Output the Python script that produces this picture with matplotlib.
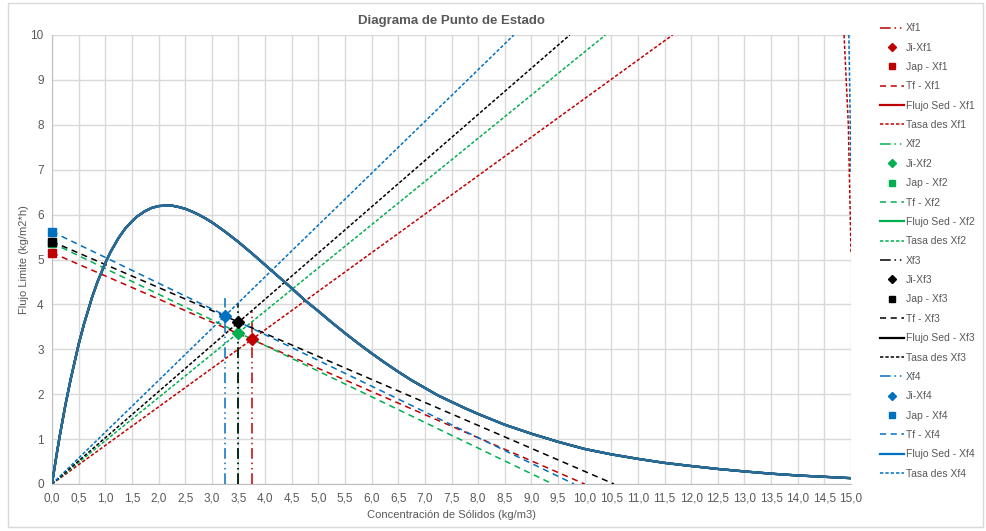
import matplotlib
matplotlib.use("Agg")
import matplotlib.pyplot as plt
from matplotlib.patches import Rectangle
from matplotlib.ticker import MultipleLocator, FuncFormatter

plt.rcParams['font.family'] = ['Liberation Sans Narrow', 'Liberation Sans', 'DejaVu Sans']

# --- data -------------------------------------------------------------
series = ["Xf1", "Xf2", "Xf3", "Xf4"]
colors = ["#C00000", "#00B050", "#000000", "#0070C0"]

# feed concentration of each state point (kg/m3)
xf = [3.75, 3.5, 3.5, 3.25]
# top of the vertical feed-concentration marker
xf_top = [3.9, 3.95, 4.03, 4.14]
# applied solids flux at the state point
ji = [3.22, 3.37, 3.6, 3.75]
# underflow flux intercept at C = 0
jap = [5.15, 5.37, 5.4, 5.62]
# underflow operating line: x-intercept (underflow concentration)
tf_end = [10.0, 9.4, 10.55, 9.8]
# overflow operating line: concentration where it reaches flux 10
tasa_end = [11.65, 10.39, 9.72, 8.67]

# batch settling flux curve (same for every series)
conc = [0, 0.05, 0.1, 0.15, 0.25, 0.35, 0.5, 0.6, 0.75, 0.85, 1.0, 1.1,
        1.25, 1.375, 1.5, 1.6, 1.75, 1.875, 2.0, 2.125, 2.25, 2.375, 2.5,
        2.625, 2.75, 2.875, 3.0, 3.25, 3.5, 3.75, 4.0, 4.25, 4.5, 4.75,
        5.0, 5.25, 5.5, 5.75, 6.0, 6.25, 6.5, 6.75, 7.0, 7.25, 7.5, 7.75,
        8.0, 8.5, 9.0, 9.5, 10.0, 10.5, 11.0, 11.5, 12.0, 12.5, 13.0, 13.5,
        14.0, 14.5, 15.0]
flux = [0, 0.38, 0.75, 1.1, 1.75, 2.33, 3.11, 3.56, 4.15, 4.49, 4.92, 5.17,
        5.48, 5.69, 5.85, 5.96, 6.08, 6.15, 6.19, 6.2, 6.2, 6.17, 6.13,
        6.07, 6.0, 5.92, 5.83, 5.62, 5.39, 5.14, 4.88, 4.62, 4.36, 4.09,
        3.85, 3.6, 3.36, 3.13, 2.91, 2.7, 2.5, 2.31, 2.14, 1.97, 1.83, 1.69,
        1.56, 1.32, 1.12, 0.94, 0.78, 0.66, 0.56, 0.47, 0.4, 0.335, 0.28,
        0.23, 0.19, 0.16, 0.13]

# short branches entering at the right edge
edge_x = {"Xf1": [14.87, 14.95, 15.0], "Xf4": [14.96, 15.0]}
edge_y = {"Xf1": [10.0, 8.0, 5.17], "Xf4": [10.0, 6.95]}

# --- figure -----------------------------------------------------------
W, H = 986, 531
fig = plt.figure(figsize=(W / 100, H / 100), dpi=100)
ax = fig.add_axes([52 / W, 1 - 484 / H, (851 - 52) / W, (484 - 35) / H])

grey_txt = "#595959"
grid_c = "#D9D9D9"

dd = (0, (7, 2.5, 1, 2.5, 1, 2.5))   # dash-dot-dot
tf_ls = (0, (4, 3))
tasa_ls = (0, (2.2, 1.3))

handles = []
for i, s in enumerate(series):
    c = colors[i]
    h_xf, = ax.plot([xf[i], xf[i]], [0, xf_top[i]], color=c, lw=1.1,
                    linestyle=dd, label=s, zorder=3)
    h_tf, = ax.plot([0, tf_end[i]], [jap[i], 0], color=c, lw=1.1,
                    linestyle=tf_ls, label=f"Tf - {s}", zorder=3)
    h_ta, = ax.plot([0, tasa_end[i]], [0, 10], color=c, lw=1.1,
                    linestyle=tasa_ls, label=f"Tasa des {s}", zorder=3)
    h_fs, = ax.plot(conc, flux, color=c, lw=1.6, label=f"Flujo Sed - {s}",
                    zorder=4)
    h_ji, = ax.plot([xf[i]], [ji[i]], marker="D", ms=6, color=c, ls="none",
                    label=f"Ji-{s}", zorder=6)
    h_jap, = ax.plot([0], [jap[i]], marker="s", ms=6, color=c, ls="none",
                     label=f"Jap - {s}", clip_on=False, zorder=6)
    if s in edge_x:
        ax.plot(edge_x[s], edge_y[s], color=c, lw=1.1, linestyle=tasa_ls,
                zorder=3)
    handles += [h_xf, h_ji, h_jap, h_tf, h_fs, h_ta]

# settling curve drawn in the shared teal-blue tone on top
ax.plot(conc, flux, color="#2A6B98", lw=1.7, zorder=5)

ax.set_xlim(0, 15)
ax.set_ylim(0, 10)
ax.xaxis.set_major_locator(MultipleLocator(0.5))
ax.yaxis.set_major_locator(MultipleLocator(1))
ax.xaxis.set_major_formatter(FuncFormatter(lambda v, p: f"{v:.1f}".replace(".", ",")))
ax.yaxis.set_major_formatter(FuncFormatter(lambda v, p: f"{v:.0f}"))
ax.grid(True, color=grid_c, lw=1.0)
ax.set_axisbelow(True)
for side in ("top", "right"):
    ax.spines[side].set_visible(False)
for side in ("left", "bottom"):
    ax.spines[side].set_color("#BFBFBF")
ax.tick_params(length=0, labelsize=8.5, colors=grey_txt, pad=6)

ax.set_title("Diagrama de Punto de Estado", fontsize=9.5, fontweight="bold",
             color=grey_txt, pad=8)
ax.set_xlabel("Concentración de Sólidos (kg/m3)", fontsize=8, color=grey_txt,
              labelpad=4)
ax.set_ylabel("Flujo Limite (kg/m2*h)", fontsize=8, color=grey_txt, labelpad=1)

leg = fig.legend(handles=handles, loc="upper left",
                 bbox_to_anchor=(876 / W, 1 - 19 / H), frameon=False,
                 fontsize=7.5, labelcolor=grey_txt, handlelength=2.3,
                 handletextpad=0.2, labelspacing=0.9, borderaxespad=0,
                 markerscale=0.75)

fig.patches.append(Rectangle((8 / W, 1 - 527 / H), (983 - 8) / W, (527 - 3) / H,
                             transform=fig.transFigure, fill=False,
                             edgecolor=grid_c, lw=1.0))

fig.savefig("out.png", dpi=100)
